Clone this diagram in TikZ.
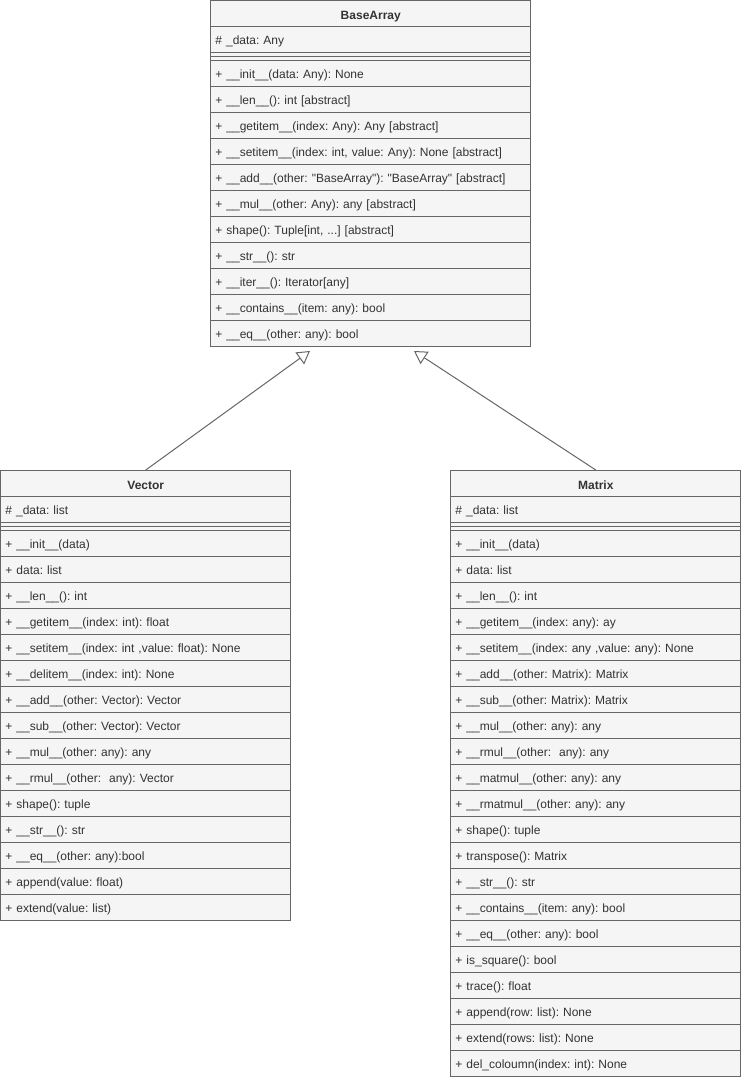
\documentclass[tikz,border=0pt]{standalone}
\usepackage{fontspec}
\setmainfont{Liberation Sans}[Ligatures=TeXOff]
\usetikzlibrary{matrix,arrows.meta}

\definecolor{umlfill}{HTML}{F5F5F5}
\definecolor{umlline}{HTML}{666666}
\definecolor{umltext}{HTML}{333333}

\begin{document}
\frenchspacing
\begin{tikzpicture}[x=0.75pt, y=-0.75pt,
  cell/.style={draw=umlline, fill=umlfill, line width=0.75pt, text=umltext,
    font=\fontsize{9pt}{11pt}\selectfont, align=left, inner xsep=3.5pt, inner ysep=0pt,
    minimum height=19.5pt, text height=8.5pt, text depth=1.7pt},
  head/.style={cell, align=center, font=\fontsize{9pt}{11pt}\selectfont\bfseries,
    text height=10pt, text depth=1pt},
  gap/.style={cell, minimum height=6pt, text height=0pt, text depth=0pt,
    path picture={\draw[umlline, line width=0.75pt] (path picture bounding box.west) -- (path picture bounding box.east);}},
  class/.style={matrix of nodes, row sep=-0.75pt, inner sep=0pt, anchor=north west,
    nodes={cell, text width=#1}},
  inherit/.style={draw=umlline, line width=0.75pt, -{Triangle[open, length=9.5pt, width=11pt]}}]
  \useasboundingbox (0,0) rectangle (742,1080);

  \matrix (base) [class=233pt] at (210,0)
  {
|[head]| BaseArray \\
\# \_data: Any \\
|[gap]| \mbox{} \\
+ \_\_init\_\_(data: Any): None \\
+ \_\_len\_\_(): int [abstract] \\
+ \_\_getitem\_\_(index: Any): Any [abstract] \\
+ \_\_setitem\_\_(index: int, value: Any): None [abstract] \\
+ \_\_add\_\_(other: "BaseArray"): "BaseArray" [abstract] \\
+ \_\_mul\_\_(other: Any): any [abstract] \\
+ shape(): Tuple[int, ...] [abstract] \\
+ \_\_str\_\_(): str \\
+ \_\_iter\_\_(): Iterator[any] \\
+ \_\_contains\_\_(item: any): bool \\
+ \_\_eq\_\_(other: any): bool \\
};

  \matrix (vec) [class=210.5pt] at (0,470)
  {
|[head]| Vector \\
\# \_data: list \\
|[gap]| \mbox{} \\
+ \_\_init\_\_(data) \\
+ data: list \\
+ \_\_len\_\_(): int \\
+ \_\_getitem\_\_(index: int): float \\
+ \_\_setitem\_\_(index: int ,value: float): None \\
+ \_\_delitem\_\_(index: int): None \\
+ \_\_add\_\_(other: Vector): Vector \\
+ \_\_sub\_\_(other: Vector): Vector \\
+ \_\_mul\_\_(other: any): any \\
+ \_\_rmul\_\_(other:\ \ any): Vector \\
+ shape(): tuple \\
+ \_\_str\_\_(): str \\
+ \_\_eq\_\_(other: any):bool \\
+ append(value: float) \\
+ extend(value: list) \\
};

  \matrix (mat) [class=210.5pt] at (450,470)
  {
|[head]| Matrix \\
\# \_data: list \\
|[gap]| \mbox{} \\
+ \_\_init\_\_(data) \\
+ data: list \\
+ \_\_len\_\_(): int \\
+ \_\_getitem\_\_(index: any): ay \\
+ \_\_setitem\_\_(index: any ,value: any): None \\
+ \_\_add\_\_(other: Matrix): Matrix \\
+ \_\_sub\_\_(other: Matrix): Matrix \\
+ \_\_mul\_\_(other: any): any \\
+ \_\_rmul\_\_(other:\ \ any): any \\
+ \_\_matmul\_\_(other: any): any \\
+ \_\_rmatmul\_\_(other: any): any \\
+ shape(): tuple \\
+ transpose(): Matrix \\
+ \_\_str\_\_(): str \\
+ \_\_contains\_\_(item: any): bool \\
+ \_\_eq\_\_(other: any): bool \\
+ is\_square(): bool \\
+ trace(): float \\
+ append(row: list): None \\
+ extend(rows: list): None \\
+ del\_coloumn(index: int): None \\
};

  \coordinate (vecTip) at (310,351);
  \coordinate (matTip) at (414,351);
  \path
  (vec.north) edge [inherit] (vecTip)
  (mat.north) edge [inherit] (matTip)
;
\end{tikzpicture}
\end{document}
